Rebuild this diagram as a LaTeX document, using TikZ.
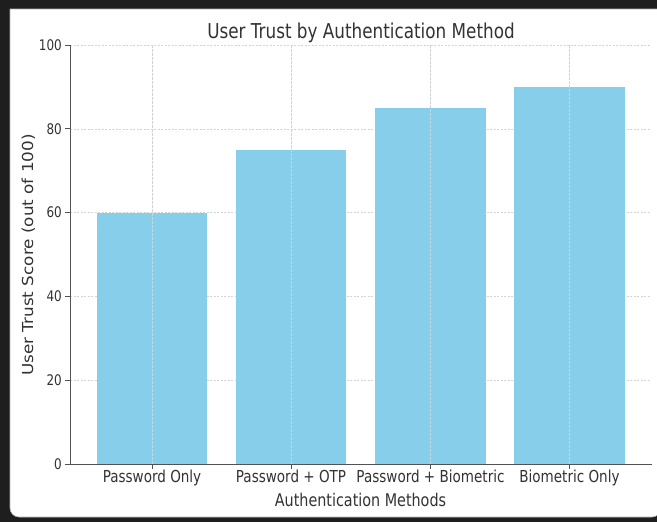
\documentclass[tikz,border=0pt]{standalone}
\usepackage{fontspec}
\newfontfamily\cf{DejaVu Sans}[FakeStretch=0.82]
\newfontfamily\ylf{DejaVu Sans}
\definecolor{barblue}{HTML}{87CEEB}
\definecolor{txt}{HTML}{333333}
\definecolor{frame}{HTML}{1E1E1E}
\definecolor{gridc}{HTML}{D4D4D4}
\tikzset{
  bar/.style={fill=barblue},
  gridline/.style={draw=gridc, line width=0.6pt, dash pattern=on 2pt off 1.5pt},
  vgrid/.style={draw=gray!35, line width=0.5pt, dash pattern=on 3pt off 1pt},
  spine/.style={draw=txt!85, line width=0.9pt},
  tickmark/.style={draw=txt!85, line width=0.9pt},
  ytl/.style={anchor=east, inner sep=0pt, text=txt, font=\cf\fontsize{14.6}{15}\selectfont},
  xtl/.style={anchor=base, inner sep=0pt, text=txt, font=\cf\fontsize{16.5}{17}\selectfont},
  ttl/.style={anchor=base, inner sep=0pt, text=txt, font=\cf\fontsize{20.5}{21}\selectfont},
  xlab/.style={anchor=base, inner sep=0pt, text=txt, font=\cf\fontsize{17.5}{18}\selectfont},
  ylab/.style={anchor=base, inner sep=0pt, rotate=90, text=txt, font=\ylf\fontsize{16.8}{17}\selectfont},
}
\begin{document}
\begin{tikzpicture}[x=1pt,y=-1pt]
\useasboundingbox (0,0) rectangle (657,522);
% screenshot frame
\fill[frame] (0,0) rectangle (657,522);
\fill[white, draw=gray!60, line width=0.6pt] (10,9) [rounded corners=9pt] -- (10,517) -- (661,517) [sharp corners] -- (661,9) -- cycle;
% horizontal grid
\foreach \v in {20,40,60,80,100}{
  \draw[gridline] (70,{464-4.19*\v}) -- (651,{464-4.19*\v});
}
% bars
\fill[bar] (97,{464-4.19*60}) rectangle (207,464);
\fill[bar] (236,{464-4.19*75}) rectangle (346,464);
\fill[bar] (375,{464-4.19*85}) rectangle (486,464);
\fill[bar] (514,{464-4.19*90}) rectangle (625,464);
% vertical grid
\foreach \c in {152,291,430.5,569.5}{
  \draw[vgrid] (\c,45) -- (\c,464);
}
% spines
\coordinate (o) at (70,464);
\coordinate (ytop) at (70,45);
\coordinate (xend) at (652,464);
\draw[spine] (ytop) -- (o) -- (xend);
% y ticks
\foreach \v in {0,20,40,60,80,100}{
  \draw[tickmark] (65,{464-4.19*\v}) -- (70,{464-4.19*\v});
  \node[ytl] (yt\v) at (62,{464-4.19*\v}) {\v};
}
% x ticks
\foreach \c in {152,291,430.5,569.5}{
  \draw[tickmark] (\c,464) -- (\c,469);
}
\node[xtl] (x1) at (152,482) {Password Only};
\node[xtl] (x2) at (291,482) {Password + OTP};
\node[xtl] (x3) at (430.5,482) {Password + Biometric};
\node[xtl] (x4) at (569.5,482) {Biometric Only};
% labels
\node[ttl] (title) at (361,38) {User Trust by Authentication Method};
\node[xlab] (xlabel) at (360.5,506) {Authentication Methods};
\node[ylab] (ylabel) at (33,255) {\scalebox{1}[0.9]{User Trust Score (out of 100)}};
\end{tikzpicture}
\end{document}
